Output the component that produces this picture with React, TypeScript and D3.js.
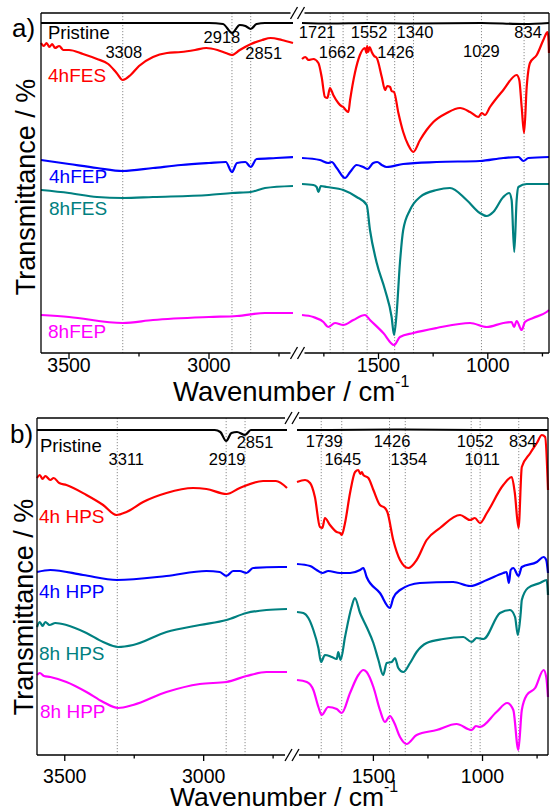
import React from 'react'
import * as d3 from 'd3'

type Pt = [number, number]

// wavenumber (cm-1), offset transmittance (a.u.)
// ---- panel a ----
const aPristine: Pt[] = [
  [3600, 330], [3000, 330], [2950, 329], [2918, 320], [2890, 328], [2870, 327], [2851, 324], [2830, 329], [2800, 330], [2700, 330],
  [1850, 330], [1721, 329.5], [1552, 330], [1340, 329.5], [1029, 330], [834, 329], [720, 330],
]
const a4hFES: Pt[] = [
  [3600, 310], [3590, 307], [3580, 310], [3570, 306], [3560, 309], [3550, 305], [3535, 307], [3520, 303], [3500, 303], [3450, 299],
  [3400, 294], [3360, 289], [3330, 280], [3308, 273], [3280, 278], [3250, 287], [3200, 296], [3150, 300], [3100, 301], [3050, 303],
  [3010, 305], [2970, 303], [2940, 300], [2918, 298], [2890, 303], [2850, 309], [2810, 313], [2780, 315], [2740, 313], [2700, 310],
  [1850, 294], [1835, 296], [1820, 293], [1798, 294], [1775, 290], [1760, 276], [1745, 256], [1734, 255], [1722, 265], [1707, 258],
  [1684, 250], [1670, 247], [1661, 246], [1650, 243], [1638, 241], [1630, 253], [1608, 280], [1585, 298], [1562, 305], [1555, 300],
  [1552, 307], [1547, 301], [1540, 306], [1531, 301], [1520, 297], [1508, 295], [1485, 276], [1470, 263], [1460, 267], [1447, 266],
  [1440, 262], [1429, 261], [1409, 240], [1387, 221], [1364, 208], [1341, 201], [1310, 213], [1280, 223], [1249, 231], [1188, 240],
  [1127, 245], [1081, 241], [1043, 236], [1028, 240], [1013, 238], [990, 246], [929, 263], [868, 278], [856, 273], [845, 246],
  [834, 220], [822, 266], [807, 290], [776, 298], [746, 313], [731, 320], [726, 321], [722, 312], [720, 300],
]
const a4hFEP: Pt[] = [
  [3600, 193], [3550, 191], [3500, 189], [3400, 185], [3308, 182], [3200, 185], [3100, 188], [3000, 190], [2940, 191], [2918, 181],
  [2900, 190], [2870, 191], [2851, 186], [2830, 194], [2760, 195], [2700, 196],
  [1850, 195], [1768, 193], [1730, 190], [1714, 191], [1691, 185], [1653, 175], [1630, 181], [1600, 188], [1570, 186], [1550, 184],
  [1524, 190], [1506, 191], [1485, 188], [1463, 186], [1387, 189], [1234, 191], [1036, 192], [929, 195], [860, 196], [837, 192],
  [814, 195], [720, 196],
]
const a8hFES: Pt[] = [
  [3600, 163], [3500, 160], [3400, 156], [3308, 155], [3200, 156], [3000, 158], [2918, 160], [2851, 161], [2800, 165], [2700, 167],
  [1850, 169], [1798, 168], [1783, 166], [1775, 161], [1764, 167], [1737, 166], [1661, 163], [1600, 156], [1554, 148], [1539, 123],
  [1508, 90], [1470, 63], [1440, 36], [1429, 18], [1417, 40], [1402, 90], [1387, 123], [1356, 143], [1310, 156], [1234, 163],
  [1173, 165], [1097, 153], [1036, 140], [1005, 137], [975, 141], [929, 156], [902, 160], [891, 153], [879, 101], [868, 153],
  [860, 166], [822, 169], [720, 169],
]
const a8hFEP: Pt[] = [
  [3600, 38], [3500, 36], [3308, 30], [3200, 33], [3000, 36], [2900, 37], [2800, 40], [2700, 40],
  [1850, 38], [1798, 36], [1752, 31], [1730, 26], [1699, 30], [1661, 28], [1615, 33], [1562, 38], [1539, 33], [1478, 20],
  [1429, 8], [1402, 16], [1341, 20], [1234, 25], [1081, 30], [1005, 26], [929, 30], [891, 31], [880, 26], [868, 32],
  [845, 23], [830, 31], [793, 35], [731, 41], [720, 43],
]

// ---- panel b ----
const bPristine: Pt[] = [
  [3600, 325], [2960, 325], [2940, 323], [2919, 314], [2900, 322], [2880, 323], [2851, 320], [2830, 325], [2700, 325],
  [1850, 325], [1700, 325], [1400, 325.5], [1000, 325], [700, 325],
]
const b4hHPS: Pt[] = [
  [3600, 277], [3590, 280], [3580, 276], [3570, 279], [3552, 275], [3540, 277], [3520, 272], [3494, 270], [3422, 260], [3362, 250],
  [3314, 240], [3278, 243], [3218, 253], [3134, 262], [3038, 267], [2990, 266], [2918, 261], [2870, 267], [2786, 274], [2740, 274],
  [2700, 267],
  [1850, 273], [1813, 275], [1790, 272], [1768, 258], [1745, 228], [1734, 227], [1722, 237], [1699, 230], [1668, 223], [1653, 222],
  [1645, 220], [1630, 232], [1607, 262], [1584, 283], [1569, 285], [1560, 281], [1553, 283], [1546, 280], [1523, 277], [1500, 265],
  [1470, 250], [1447, 247], [1436, 243], [1409, 215], [1378, 195], [1340, 187], [1302, 195], [1256, 215], [1195, 227], [1103, 240],
  [1057, 235], [1035, 237], [1012, 232], [980, 242], [905, 270], [866, 278], [852, 262], [835, 227], [820, 288], [781, 302],
  [751, 312], [728, 320], [713, 318], [700, 265],
]
const b4hHPP: Pt[] = [
  [3600, 183], [3552, 185], [3434, 180], [3312, 175], [3134, 179], [2990, 184], [2942, 183], [2918, 179], [2894, 184], [2870, 184],
  [2846, 182], [2822, 187], [2726, 188], [2700, 188],
  [1850, 191], [1790, 189], [1760, 185], [1734, 182], [1707, 184], [1653, 182], [1607, 182], [1561, 185], [1546, 187], [1531, 178],
  [1470, 162], [1424, 147], [1409, 157], [1378, 165], [1287, 172], [1134, 173], [1057, 169], [980, 175], [905, 182], [890, 183],
  [879, 172], [871, 185], [859, 187], [835, 179], [820, 188], [751, 193], [720, 198], [708, 195], [700, 182],
]
const b8hHPS: Pt[] = [
  [3600, 128], [3590, 133], [3580, 129], [3570, 133], [3555, 130], [3534, 132], [3494, 130], [3422, 122], [3362, 113], [3308, 108],
  [3254, 110], [3134, 123], [3014, 130], [2918, 135], [2846, 142], [2774, 145], [2700, 146],
  [1850, 143], [1821, 142], [1798, 137], [1775, 125], [1752, 107], [1740, 93], [1722, 100], [1691, 98], [1668, 96], [1661, 103],
  [1650, 95], [1630, 118], [1600, 148], [1585, 157], [1561, 142], [1531, 128], [1500, 112], [1477, 95], [1455, 80], [1439, 92],
  [1416, 93], [1401, 97], [1386, 87], [1363, 83], [1332, 92], [1302, 103], [1256, 112], [1180, 116], [1088, 118], [1050, 113],
  [1027, 117], [996, 116], [920, 142], [874, 145], [851, 138], [838, 120], [825, 142], [820, 155], [792, 167], [737, 172],
  [706, 175], [700, 160],
]
const b8hHPP: Pt[] = [
  [3600, 80], [3590, 82], [3575, 79], [3552, 78], [3494, 73], [3422, 63], [3362, 53], [3308, 47], [3254, 50], [3134, 63],
  [3014, 71], [2918, 73], [2846, 79], [2774, 83], [2700, 83],
  [1850, 75], [1805, 73], [1775, 65], [1752, 48], [1737, 40], [1707, 48], [1668, 46], [1645, 42], [1607, 62], [1569, 80],
  [1546, 85], [1531, 83], [1500, 68], [1470, 45], [1447, 33], [1424, 39], [1406, 33], [1378, 18], [1348, 11], [1302, 20],
  [1210, 25], [1119, 31], [1050, 25], [1030, 29], [1012, 28], [936, 43], [887, 52], [859, 45], [836, 5], [820, 45],
  [797, 60], [759, 67], [720, 85], [708, 78], [700, 58],
]

const aNames = ['Pristine', '4hFES', '4hFEP', '8hFES', '8hFEP']
const bNames = ['Pristine', '4h HPS', '4h HPP', '8h HPS', '8h HPP']
const colors = ['#000000', '#ff0000', '#0000ff', '#008080', '#ff00ff']

const aBands = [3308, 2918, 2851, 1721, 1662, 1552, 1426, 1340, 1029, 834]
const bBands = [3311, 2919, 2851, 1739, 1645, 1426, 1354, 1052, 1011, 834]

const majorTicks = [3500, 3000, 1500, 1000]
const minorTicks = [3250, 2750, 1750, 1250, 750]

const FONT = "'Liberation Sans', Arial, sans-serif"

// label placement (offset from band line, baseline below panel top)
const aBandPos = [[1, 45], [-10, 30], [13, 46], [-13, 25], [-6, 45], [2, 25], [1, 45], [1.5, 25], [0, 44], [4, 25]]
const bBandPos = [[9, 47], [1, 47], [10, 30], [3, 29], [1, 47], [2.5, 29], [3.5, 47], [4, 29], [2, 47], [4, 29]]

const panelA = {
  tag: 'a)', tagX: 12, tagY: 37, top: 13, bottom: 353,
  leftRange: [41, 293], rightRange: [302, 549], leftDomain: [3600, 2700], rightDomain: [1850, 720],
  yMax: 340, tickY: 372, titleX: 173, titleY: 401, titleSize: 27.5, ylabX: 35, ylabY: 187,
  nameX: [48, 48, 49, 49, 48], nameY: [39, 82, 183, 215, 338],
}
const panelB = {
  tag: 'b)', tagX: 10, tagY: 443, top: 418, bottom: 755,
  leftRange: [37, 287], rightRange: [297, 548], leftDomain: [3600, 2700], rightDomain: [1850, 700],
  yMax: 337, tickY: 783, titleX: 170, titleY: 806, titleSize: 26.5, ylabX: 33, ylabY: 607,
  nameX: [40, 39, 39, 39, 40], nameY: [452, 523, 598, 660, 718],
}

function Panel({ cfg, series, names, bands, bandPos }: any) {
  const xl = d3.scaleLinear().domain(cfg.leftDomain).range(cfg.leftRange)
  const xr = d3.scaleLinear().domain(cfg.rightDomain).range(cfg.rightRange)
  const y = d3.scaleLinear().domain([0, cfg.yMax]).range([cfg.bottom, cfg.top])
  const isLeft = (w: number) => w > 2200
  const xw = (w: number) => (isLeft(w) ? xl(w) : xr(w))
  const line = d3.line<Pt>().x((d) => xw(d[0])).y((d) => y(d[1])).curve(d3.curveMonotoneX)

  const x0 = cfg.leftRange[0]
  const x1 = cfg.rightRange[1]
  const bx = (cfg.leftRange[1] + cfg.rightRange[0]) / 2
  const gap = 7

  const hLine = (yy: number) => (
    <g>
      <line x1={x0} x2={bx - gap} y1={yy} y2={yy} stroke="#000" strokeWidth={1.3} />
      <line x1={bx + gap} x2={x1} y1={yy} y2={yy} stroke="#000" strokeWidth={1.3} />
      {[-3.5, 3.5].map((o) => (
        <line key={o} x1={bx + o - 3.5} x2={bx + o + 3.5} y1={yy + 6} y2={yy - 6} stroke="#000" strokeWidth={1.3} />
      ))}
    </g>
  )

  const inDomain = (w: number) =>
    (w <= cfg.leftDomain[0] && w >= cfg.leftDomain[1]) || (w <= cfg.rightDomain[0] && w >= cfg.rightDomain[1])

  return (
    <g>
      {bands.map((w: number) => (
        <line key={'d' + w} x1={xw(w)} x2={xw(w)} y1={cfg.top} y2={cfg.bottom}
          stroke="#8c8c8c" strokeWidth={1} strokeDasharray="1.2 1.8" />
      ))}
      {series.map((s: Pt[], i: number) => (
        <g key={'s' + i}>
          <path d={line(s.filter((d) => isLeft(d[0])))!} fill="none" stroke={colors[i]} strokeWidth={2.2} strokeLinejoin="round" />
          <path d={line(s.filter((d) => !isLeft(d[0])))!} fill="none" stroke={colors[i]} strokeWidth={2.2} strokeLinejoin="round" />
        </g>
      ))}
      {hLine(cfg.top)}
      {hLine(cfg.bottom)}
      <line x1={x0} x2={x0} y1={cfg.top} y2={cfg.bottom} stroke="#000" strokeWidth={1.3} />
      <line x1={x1} x2={x1} y1={cfg.top} y2={cfg.bottom} stroke="#000" strokeWidth={1.3} />
      {majorTicks.filter(inDomain).map((w) => (
        <g key={'t' + w}>
          <line x1={xw(w)} x2={xw(w)} y1={cfg.bottom} y2={cfg.bottom + 6} stroke="#000" strokeWidth={1.3} />
          <text x={xw(w)} y={cfg.tickY} textAnchor="middle" fontSize={19.5} fontFamily={FONT}>{w}</text>
        </g>
      ))}
      {minorTicks.filter(inDomain).map((w) => (
        <line key={'m' + w} x1={xw(w)} x2={xw(w)} y1={cfg.bottom} y2={cfg.bottom + 3.5} stroke="#000" strokeWidth={1.3} />
      ))}
      {bands.map((w: number, i: number) => (
        <text key={'b' + w} x={xw(w) + bandPos[i][0]} y={cfg.top + bandPos[i][1]} textAnchor="middle"
          fontSize={16.5} fontFamily={FONT} fill="#000">{w}</text>
      ))}
      {names.map((n: string, i: number) => (
        <text key={'n' + i} x={cfg.nameX[i]} y={cfg.nameY[i]} fontSize={i === 0 ? 18.5 : 19} fontFamily={FONT} fill={colors[i]}>{n}</text>
      ))}
      <text x={cfg.tagX} y={cfg.tagY} fontSize={26} fontFamily={FONT}>{cfg.tag}</text>
      <text x={cfg.titleX} y={cfg.titleY} fontSize={cfg.titleSize} fontFamily={FONT}>
        Wavenumber / cm<tspan dy={-14} fontSize={16}>-1</tspan>
      </text>
      <text transform={`translate(${cfg.ylabX},${cfg.ylabY}) rotate(-90)`} textAnchor="middle" fontSize={27} fontFamily={FONT}>
        Transmittance / %
      </text>
    </g>
  )
}

export default function App() {
  return (
    <svg width={550} height={812} style={{ position: 'absolute', left: 0, top: 0, background: '#fff' }}>
      <rect width={550} height={812} fill="#fff" />
      <Panel cfg={panelA} series={[aPristine, a4hFES, a4hFEP, a8hFES, a8hFEP]} names={aNames} bands={aBands} bandPos={aBandPos} />
      <Panel cfg={panelB} series={[bPristine, b4hHPS, b4hHPP, b8hHPS, b8hHPP]} names={bNames} bands={bBands} bandPos={bBandPos} />
    </svg>
  )
}
